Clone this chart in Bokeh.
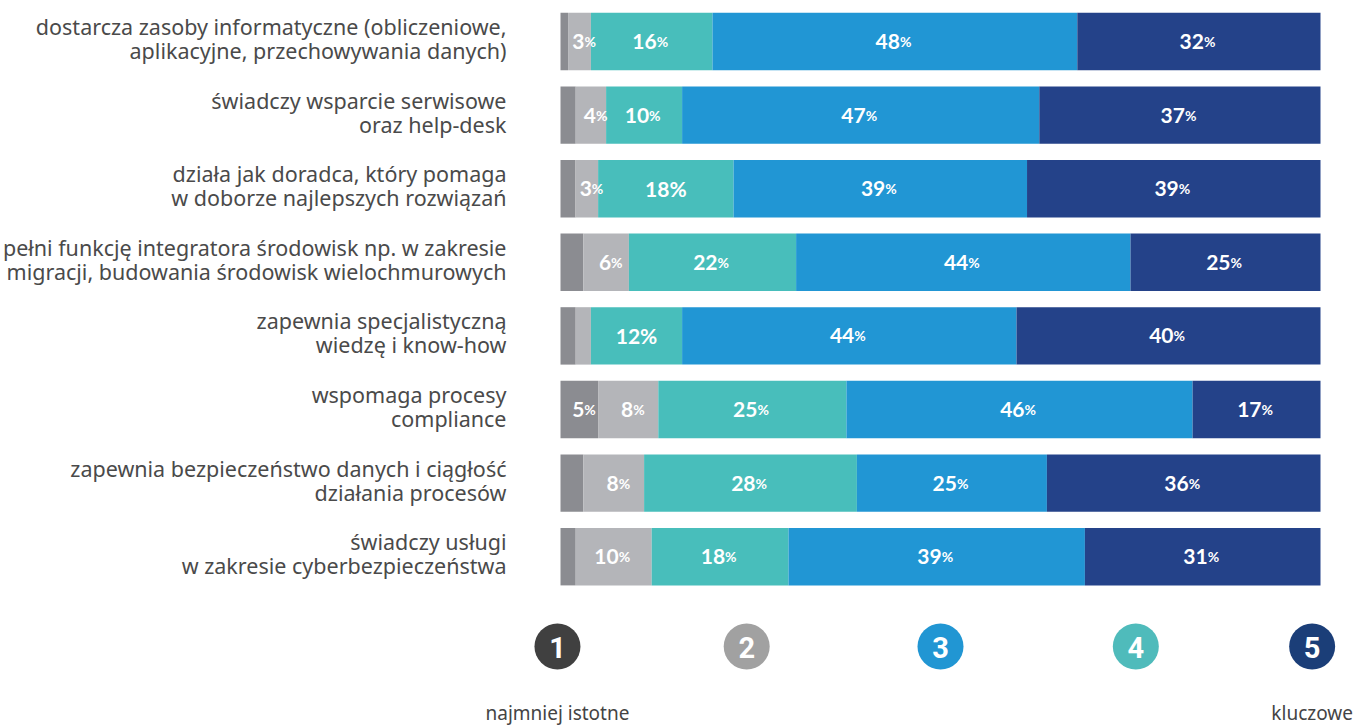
import numpy as np
from bokeh.plotting import figure
from bokeh.models import ColumnDataSource, Range1d
from bokeh.core.properties import value
from bokeh.embed import file_html
from bokeh.resources import INLINE

categories = [
    "dostarcza zasoby informatyczne (obliczeniowe,\naplikacyjne, przechowywania danych)",
    "świadczy wsparcie serwisowe\noraz help-desk",
    "działa jak doradca, który pomaga\nw doborze najlepszych rozwiązań",
    "pełni funkcję integratora środowisk np. w zakresie\nmigracji, budowania środowisk wielochmurowych",
    "zapewnia specjalistyczną\nwiedzę i know-how",
    "wspomaga procesy\ncompliance",
    "zapewnia bezpieczeństwo danych i ciągłość\ndziałania procesów",
    "świadczy usługi\nw zakresie cyberbezpieczeństwa",
]
score1 = [1, 2, 2, 3, 2, 5, 3, 2]
score2 = [3, 4, 3, 6, 2, 8, 8, 10]
score3 = [16, 10, 18, 22, 12, 25, 28, 18]
score4 = [48, 47, 39, 44, 44, 46, 25, 39]
score5 = [32, 37, 39, 25, 40, 17, 36, 31]
seg_colors = ["#8b8c91", "#b4b5b9", "#48bebb", "#2196d4", "#244289"]
min_label = [5, 3, 3, 3, 3]
full_pct = [(2, 2), (4, 2)]  # (row, column) labels with full-size "%"

legend_nums = ["1", "2", "3", "4", "5"]
legend_colors = ["#404040", "#a1a1a1", "#2196d3", "#4fbbbb", "#1b3e78"]
end_labels = ["najmniej istotne", "kluczowe"]

W, H = 1370, 726
ppu = 7.6
x0 = -560 / ppu
ppy = 73.6
y0 = -41 / ppy

p = figure(width=W, height=H, output_backend="svg", toolbar_location=None,
           x_range=Range1d(x0, x0 + W / ppu), y_range=Range1d(y0 + H / ppy, y0),
           min_border=0, outline_line_color=None, background_fill_color="white",
           border_fill_color="white")
p.axis.visible = False
p.grid.visible = False

data = np.array([score1, score2, score3, score4, score5], dtype=float).T
tot = data.sum(axis=1, keepdims=True)
share = data / tot * 100
rights = np.cumsum(share, axis=1)
lefts = rights - share
rows = np.arange(len(categories))

for j in range(5):
    src = ColumnDataSource(dict(y=rows, left=lefts[:, j], right=rights[:, j]))
    p.hbar(y="y", left="left", right="right", height=0.78, source=src,
           fill_color=seg_colors[j], line_color=None)

nx, ny, nt, px_, py_, fx, fy, ft = [], [], [], [], [], [], [], []
for i in rows:
    for j in range(5):
        v = data[i, j]
        if v < min_label[j]:
            continue
        cx = (lefts[i, j] + rights[i, j]) / 2
        if (i, j) in full_pct:
            fx.append(cx); fy.append(i); ft.append(f"{int(v)}%")
        else:
            nx.append(cx); ny.append(i); nt.append(f"{int(v)}")
            px_.append(cx); py_.append(i)

p.text(x=nx, y=ny, text=nt, text_font=value("Lato"), text_font_style="bold",
       text_font_size="21px", text_color="white", text_align="right",
       text_baseline="alphabetic", x_offset=5, y_offset=0)
p.text(x=px_, y=py_, text=["%"] * len(px_), text_font=value("Lato"),
       text_font_style="bold", text_font_size="14px", text_color="white",
       text_align="left", text_baseline="alphabetic", x_offset=5, y_offset=0)
p.text(x=fx, y=fy, text=ft, text_font=value("Lato"), text_font_style="bold",
       text_font_size="21px", text_color="white", text_align="center",
       text_baseline="alphabetic", y_offset=0)

p.text(x=[0] * len(categories), y=rows, text=categories, text_font=value("Noto Sans"),
       text_font_size="21.5px", text_color="#4a4a4a", text_align="right",
       text_baseline="middle", x_offset=-54, y_offset=-3, text_line_height=0.83)

legend_pos = [-0.4, 24.5, 50.0, 75.7, 98.9]
ly = [len(categories) + 0.22] * 5
p.scatter(x=legend_pos, y=ly, size=46, fill_color=legend_colors, line_color=None)
p.text(x=legend_pos, y=ly, text=legend_nums, text_font=value("Roboto"),
       text_font_style="bold", text_font_size="29px", text_color="white",
       text_align="center", text_baseline="middle", y_offset=1)
p.text(x=[legend_pos[0], legend_pos[-1]], y=ly[:2], text=end_labels,
       text_font=value("Noto Sans"), text_font_size="19px", text_color="#444444",
       text_align="center", text_baseline="top", y_offset=54)

open("out.html", "w").write(file_html(p, INLINE))
